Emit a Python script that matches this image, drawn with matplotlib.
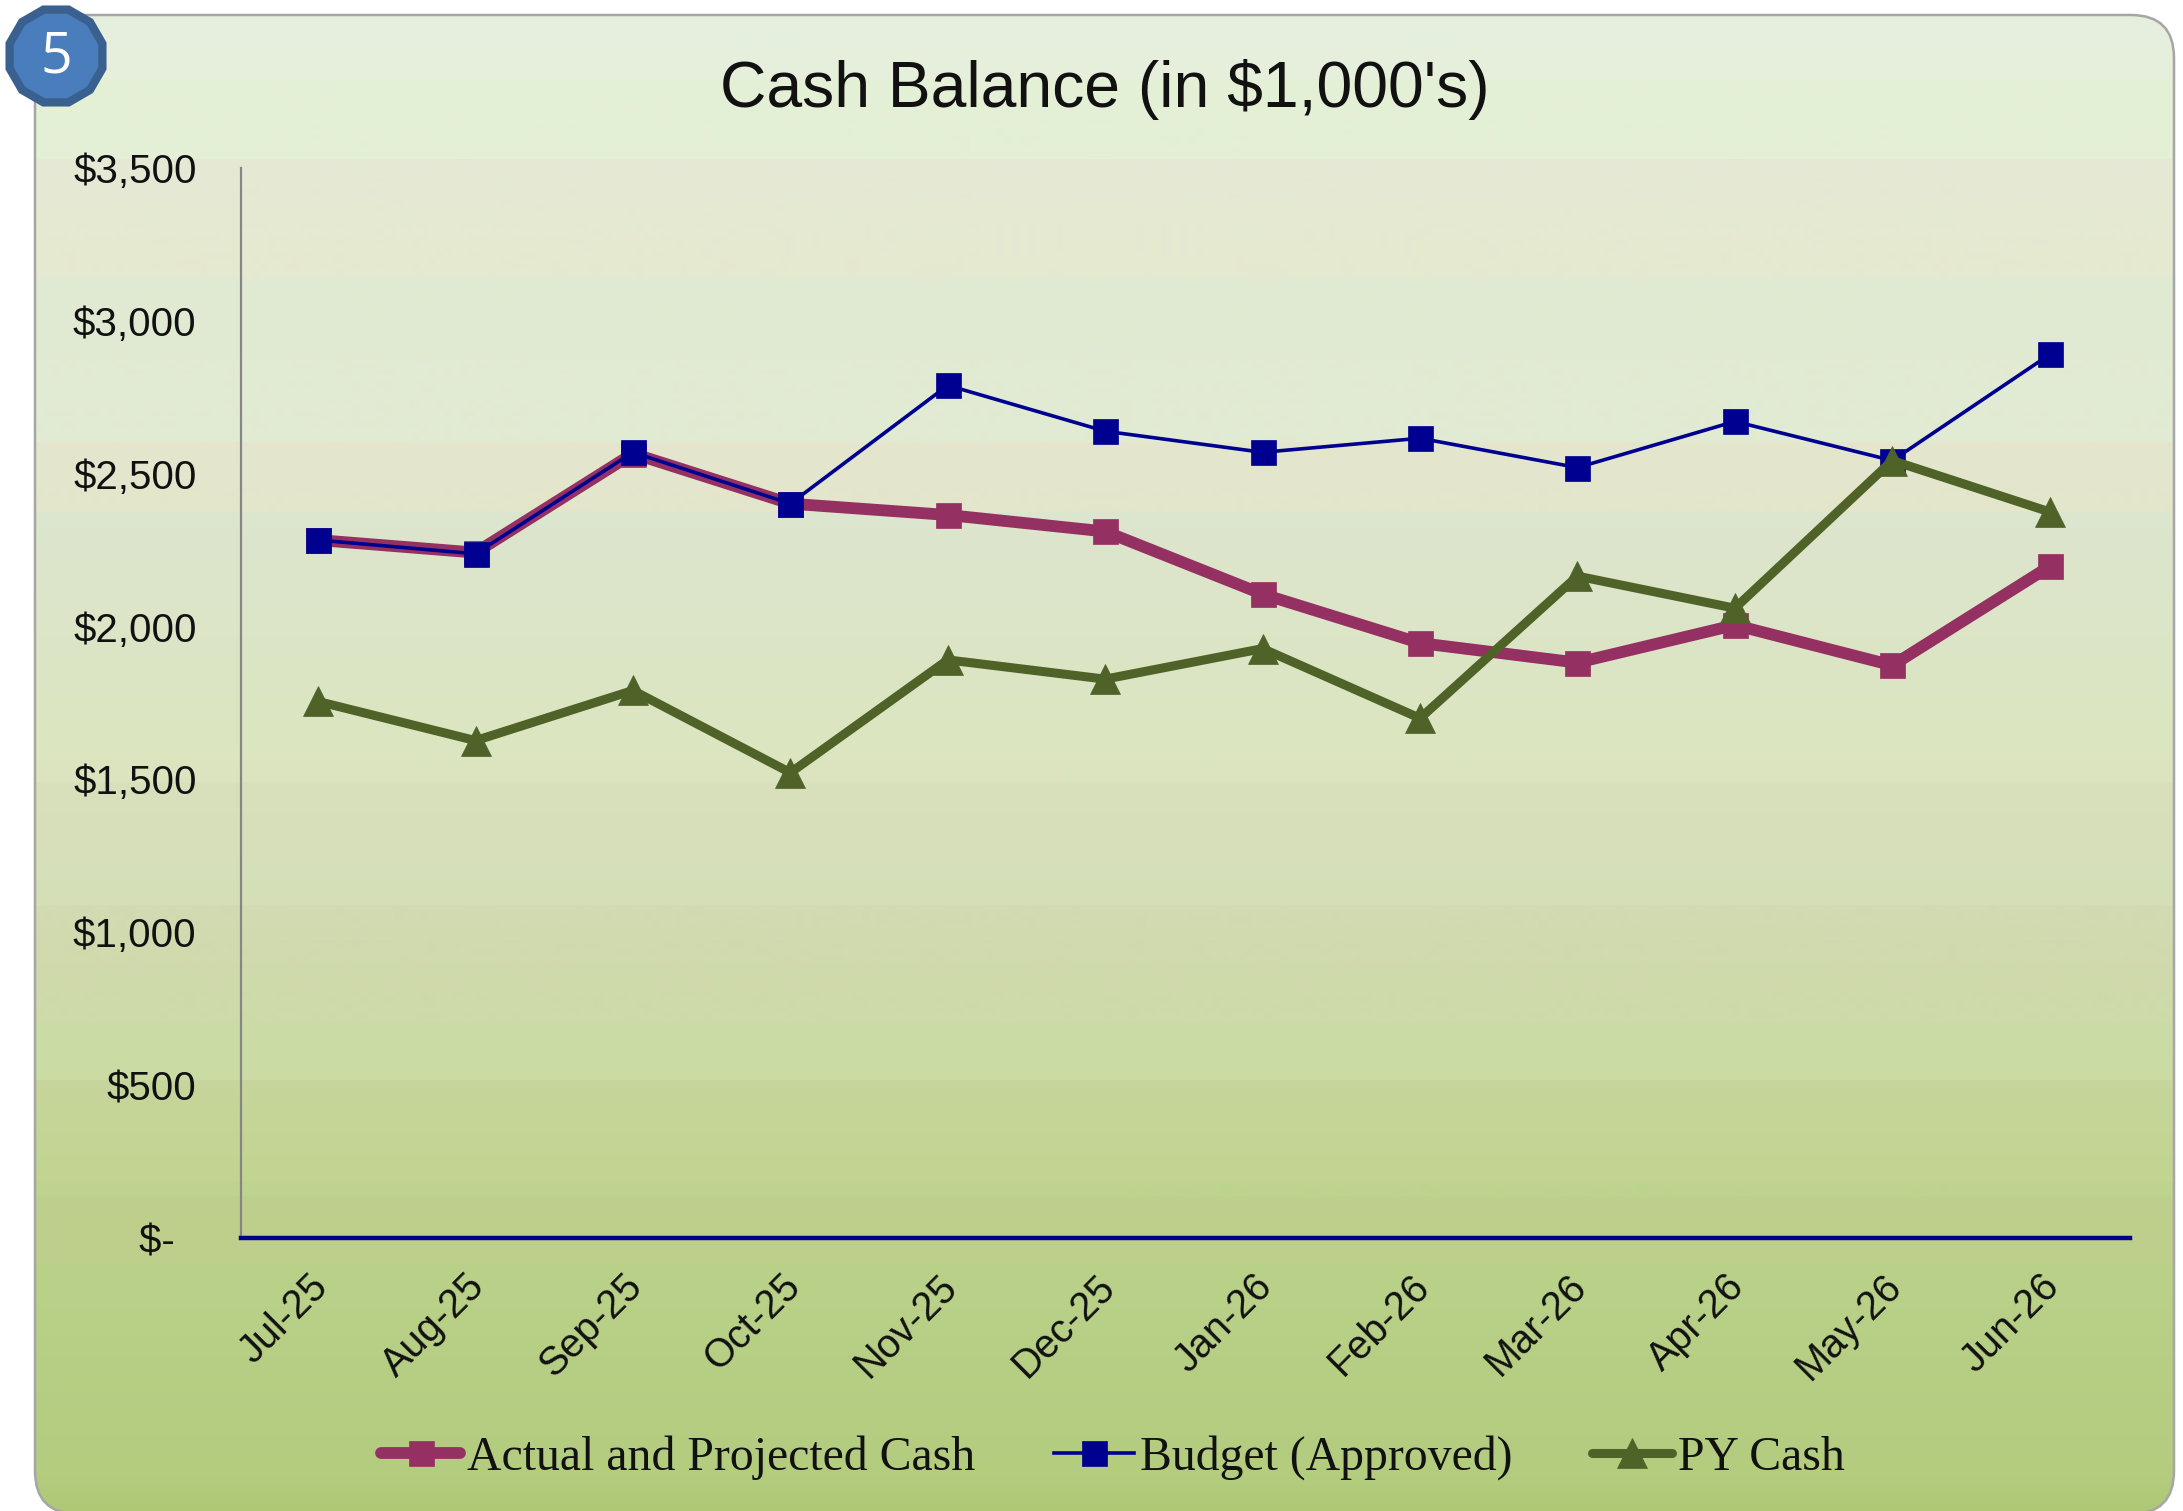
import numpy as np
import matplotlib
matplotlib.use('Agg')
import matplotlib.pyplot as plt
from matplotlib.colors import LinearSegmentedColormap
from matplotlib.patches import FancyBboxPatch, RegularPolygon
from matplotlib.transforms import ScaledTranslation

W, H = 2183, 1511

months = ['Jul-25', 'Aug-25', 'Sep-25', 'Oct-25', 'Nov-25', 'Dec-25',
          'Jan-26', 'Feb-26', 'Mar-26', 'Apr-26', 'May-26', 'Jun-26']
actual = [2283, 2242, 2566, 2402, 2365, 2311, 2106, 1946, 1882, 2005, 1873, 2197]
budget = [2283, 2238, 2570, 2402, 2789, 2639, 2570, 2616, 2520, 2671, 2543, 2890]
py_cash = [1755, 1627, 1791, 1522, 1891, 1828, 1928, 1700, 2165, 2060, 2543, 2375]
y_ticks = [0, 500, 1000, 1500, 2000, 2500, 3000, 3500]
y_labels = ['$-  ', '$500', '$1,000', '$1,500', '$2,000', '$2,500', '$3,000', '$3,500']

fig = plt.figure(figsize=(W / 100, H / 100), dpi=100, facecolor='white')

# background panel, full figure in pixel coordinates
bg = fig.add_axes([0, 0, 1, 1])
bg.axis('off')

# the gradient in the original is banded, so keep the hard steps
stops = [(15, '#E6EFDE'), (78, '#E6F0DC'), (79, '#E4F0D7'), (158, '#E4F0D5'),
         (159, '#E5E9D5'), (276, '#E5E9CF'), (277, '#E0EAD2'), (441, '#E2EBD2'),
         (442, '#E4E6CE'), (511, '#E3E6CB'), (512, '#DDE6CE'), (760, '#DBE5BF'),
         (782, '#DBE4BE'), (783, '#D9E0BC'), (905, '#D4DFB8'), (906, '#D2DAB2'),
         (1021, '#CEDAA8'), (1022, '#CCDCA6'), (1080, '#CADBA3'), (1081, '#C6D69C'),
         (1182, '#C2D490'), (1183, '#BDD38E'), (1196, '#BDD38E'), (1197, '#BFD08E'),
         (1264, '#BDCF8A'), (1265, '#BAD18A'), (1477, '#B3CC7E'), (1514, '#AFC875')]
top, bot = stops[0][0], stops[-1][0]
cmap = LinearSegmentedColormap.from_list(
    'panel', [((y - top) / (bot - top), c) for y, c in stops], N=1500)
grad = np.linspace(0, 1, 1500).reshape(-1, 1)
im = bg.imshow(grad, cmap=cmap, extent=[35, 2174, bot, top], aspect='auto', zorder=1)
bg.set_xlim(0, W)
bg.set_ylim(H, 0)

# nearly clear face instead of none: agg mangles unfilled curves that pass the canvas edge
panel = FancyBboxPatch((78, 58), 2053, 1413, boxstyle='round,pad=43,rounding_size=43',
                       fc=(0, 0, 0, 0.001), ec='#A6A6A6', lw=1.8, zorder=2)
bg.add_patch(panel)
im.set_clip_path(panel)

# numbered badge
badge = RegularPolygon((56, 56), 12, radius=48, orientation=np.pi / 12,
                       fc='#4A7DBB', ec='#3A6090', lw=6, zorder=3)
bg.add_patch(badge)
bg.text(56, 58, '5', color='white', fontsize=40, family='Open Sans',
        ha='center', va='center', zorder=4)

# chart
ax = fig.add_axes([241 / W, 1 - 1238 / H, (2130 - 241) / W, (1238 - 168) / H])
ax.patch.set_alpha(0)
ax.set_xlim(-0.49, 11.51)
ax.set_ylim(0, 3500)

x = np.arange(len(months))
ax.plot(x, actual, color='#953062', lw=8.5, marker='s', ms=18, mec='#953062', mew=0.5,
        label='Actual and Projected Cash', solid_joinstyle='round', solid_capstyle='round')
ax.plot(x, budget, color='#000090', lw=2.6, marker='s', ms=18, mec='#000090', mew=0.5,
        label='Budget (Approved)')
ax.plot(x, py_cash, color='#4F6228', lw=6.5, marker='^', ms=21, mec='#4F6228', mew=0.5,
        label='PY Cash', solid_joinstyle='round', solid_capstyle='round')

for s in ['top', 'right']:
    ax.spines[s].set_visible(False)
ax.spines['left'].set_color('#868686')
ax.spines['left'].set_linewidth(1.6)
ax.spines['bottom'].set_color('#000090')
ax.spines['bottom'].set_linewidth(3.2)

ax.set_yticks(y_ticks)
ax.set_yticklabels(y_labels, fontsize=29, family='Liberation Sans', color='#111111')
ax.set_xticks(x)
ax.set_xticklabels(months, fontsize=28.5, family='Liberation Sans', color='#111111',
                   rotation=45, ha='right', va='top', rotation_mode='anchor')
ax.tick_params(axis='both', length=0)
ax.tick_params(axis='y', pad=32)
ax.tick_params(axis='x', pad=21)
shift = ScaledTranslation(-10 / 100, 0, fig.dpi_scale_trans)
for lab in ax.get_xticklabels():
    lab.set_transform(lab.get_transform() + shift)

fig.text(1105 / W, 1 - 89 / H, "Cash Balance (in $1,000's)", fontsize=46.3,
         family='Liberation Sans', color='#111111', ha='center', va='center')

leg = ax.legend(loc='center', bbox_to_anchor=(1113 / W, 1 - 1458 / H),
                bbox_transform=fig.transFigure, ncol=3, frameon=False,
                prop={'family': 'Liberation Serif', 'size': 34.4},
                handlelength=1.66, handletextpad=0.14, columnspacing=1.66, labelcolor='#111111')

fig.savefig('out.png', dpi=100)
